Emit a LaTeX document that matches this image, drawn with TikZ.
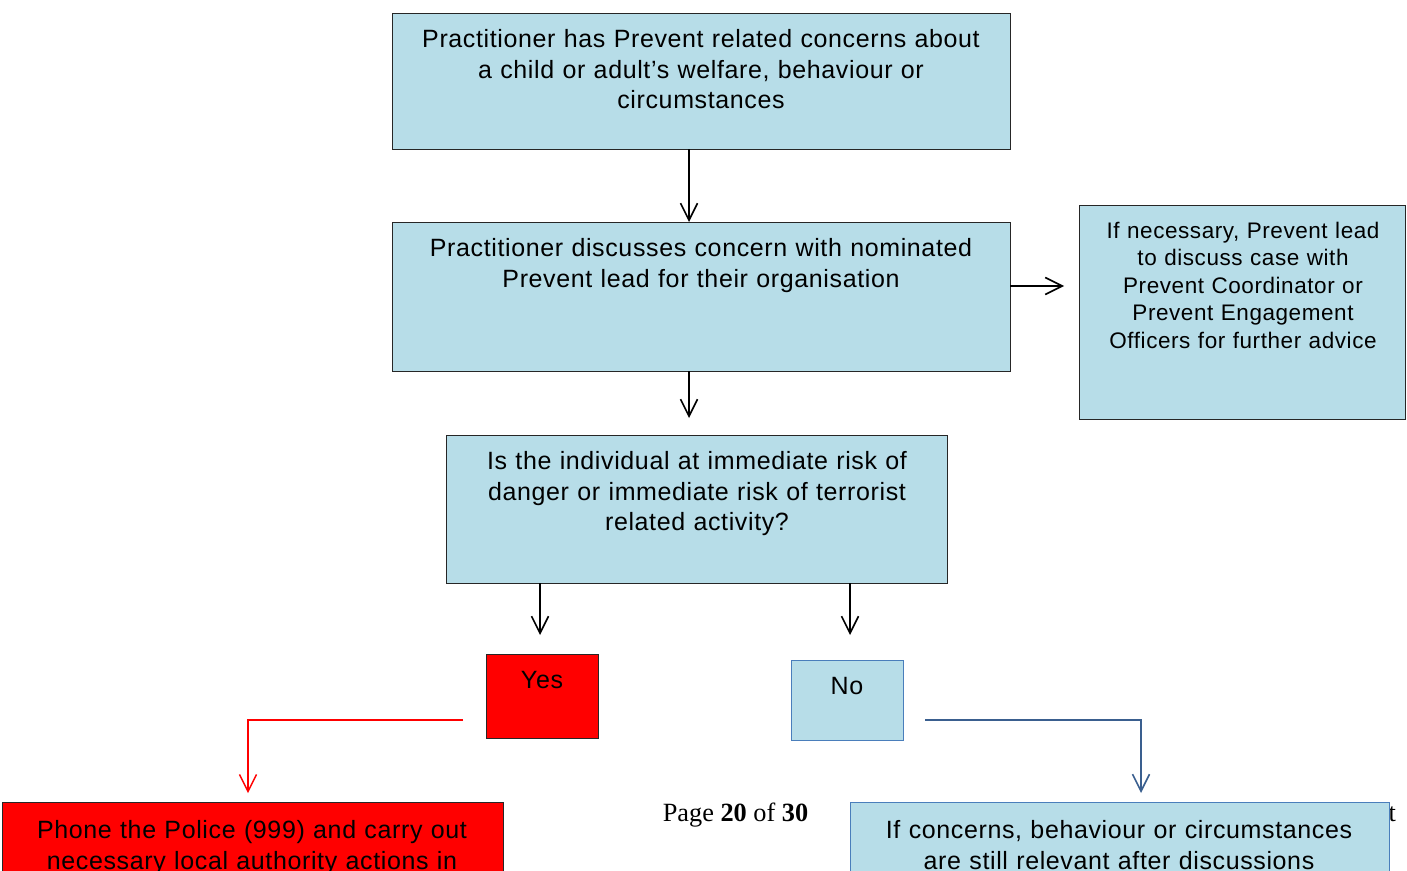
\documentclass[tikz,border=0pt]{standalone}
\usepackage{fontspec}
\setmainfont{Liberation Sans}
\newfontfamily\boxfont[LetterSpace=2.5]{Liberation Sans}
\newfontfamily\timesfont{Liberation Serif}
\usetikzlibrary{arrows.meta}
\definecolor{boxblue}{HTML}{B7DDE8}
\definecolor{linkblue}{HTML}{3A5F8F}
\definecolor{nbord}{HTML}{4A7EBB}
\definecolor{pured}{HTML}{FF0000}
\begin{document}
\begin{tikzpicture}[x=1bp,y=-1bp,
  box/.style={draw=black!85, line width=1bp, fill=boxblue, anchor=north west, inner sep=0pt, outer sep=0pt},
  bluebox/.style={box, draw=nbord},
  redbox/.style={box, fill=pured},
  txt/.style={anchor=base, align=center, inner sep=0pt, text width=640bp, font=\boxfont\fontsize{25bp}{30.5bp}\selectfont},
  stxt/.style={anchor=base, align=center, inner sep=0pt, text width=324bp, font=\boxfont\fontsize{22.5bp}{27.6bp}\selectfont},
  pagetxt/.style={anchor=base, inner sep=0pt, font=\timesfont\fontsize{26.3bp}{30bp}\selectfont},
  arr/.style={line width=1.6bp, -{Straight Barb[length=17bp,width=17bp]}},
]
\useasboundingbox (0,0) rectangle (1407,870);
\clip (0,0) rectangle (1407,870);
\fill[white] (0,0) rectangle (1407,870);

% page footer text (behind boxes)
\node[pagetxt] (page) at (735.5,821) {Page \textbf{20} of \textbf{30}};
\node[pagetxt, anchor=base east] (tail) at (1396,821) {t};

% boxes
\node[box, minimum width=618bp, minimum height=136bp] (b1) at (392,13) {};
\node[box, minimum width=618bp, minimum height=149bp] (b2) at (392,222) {};
\node[box, minimum width=326bp, minimum height=214bp] (b3) at (1079,205) {};
\node[box, minimum width=501bp, minimum height=148bp] (b4) at (446,435) {};
\node[redbox, minimum width=112bp, minimum height=84bp] (yes) at (486,654) {};
\node[bluebox, minimum width=112bp, minimum height=80bp] (no) at (791,660) {};
\node[redbox, minimum width=501bp, minimum height=120bp] (police) at (2,802) {};
\node[bluebox, minimum width=539bp, minimum height=120bp] (still) at (850,802) {};

% texts
\node[txt] (t1) at (701,47.5) {Practitioner has Prevent related concerns about\\a child or adult’s welfare, behaviour or\\circumstances};
\node[txt] (t2) at (701,256.5) {Practitioner discusses concern with nominated\\Prevent lead for their organisation};
\node[stxt] (t3) at (1243,238) {If necessary, Prevent lead\\to discuss case with\\Prevent Coordinator or\\Prevent Engagement\\Officers for further advice};
\node[txt, text width=500bp] (t4) at (697,469.5) {Is the individual at immediate risk of\\danger or immediate risk of terrorist\\related activity?};
\node[txt, text width=110bp] (tyes) at (542,688.5) {Yes};
\node[txt, text width=110bp] (tno) at (847,694.5) {No};
\node[txt, text width=500bp] (tpolice) at (252,838.5) {Phone the Police (999) and carry out\\necessary local authority actions in};
\node[txt, text width=540bp] (tstill) at (1119,838.5) {If concerns, behaviour or circumstances\\are still relevant after discussions};

% helper coordinates
\coordinate (ax) at (689,0);
\coordinate (ry) at (0,286);
\coordinate (yx) at (540,0);
\coordinate (nx) at (850,0);
\coordinate (ly) at (0,720);
\coordinate (rx) at (248,0);
\coordinate (bx) at (1141,0);

% connectors
\draw[arr] (b1.south -| ax) -- (b2.north -| ax);
\draw[arr, shorten >=17bp] (b2.south -| ax) -- (b4.north -| ax);
\draw[arr, shorten >=15bp] (b2.east |- ry) -- (b3.west |- ry);
\draw[arr, shorten >=19bp] (b4.south -| yx) -- (yes.north -| yx);
\draw[arr, shorten >=25bp] (b4.south -| nx) -- (no.north -| nx);
\draw[arr, draw=pured, line width=1.4bp, shorten <=23bp, shorten >=9bp] (yes.west |- ly) -| (police.north -| rx);
\draw[arr, draw=linkblue, line width=1.6bp, shorten <=22bp, shorten >=9bp] (no.east |- ly) -| (still.north -| bx);
\end{tikzpicture}
\end{document}
